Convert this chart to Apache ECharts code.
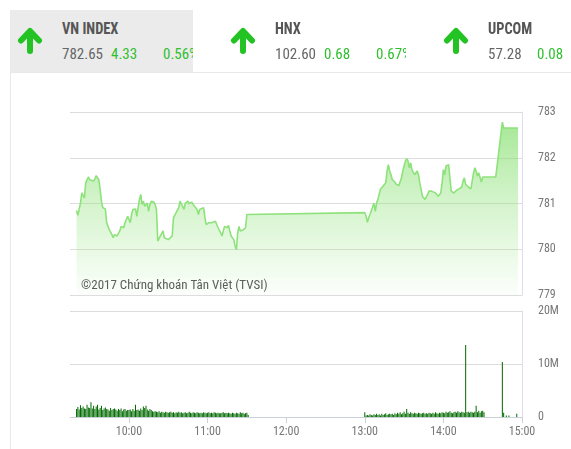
<!DOCTYPE html>
<html>
<head>
<meta charset="utf-8">
<script src="https://cdn.jsdelivr.net/npm/echarts@6/dist/echarts.min.js"></script>
<style>
  html,body{margin:0;padding:0;background:#fff;width:571px;height:449px;overflow:hidden;}
  #chart{position:absolute;left:0;top:0;width:571px;height:449px;}
  .item{position:absolute;top:10px;width:183px;height:62px;overflow:hidden;font-family:'Liberation Sans Narrow','Roboto Condensed','DejaVu Sans Condensed',sans-serif;}
  .item.sel{background:#ebebeb;}
  .item svg{position:absolute;left:7px;top:16px;}
  .ttl{position:absolute;left:52px;top:11px;font-size:16px;font-weight:bold;color:#555;white-space:nowrap;line-height:16px;transform:scaleX(0.9);transform-origin:0 0;}
  .v{position:absolute;top:37px;font-size:15px;white-space:nowrap;line-height:15px;}
  .v0{left:52px;color:#666;}
  .v1{left:101px;color:#2fbf2f;}
  .v2{left:153px;color:#2fbf2f;}
  #hl{position:absolute;left:10px;top:72px;width:561px;height:1px;background:#e8e8e8;}
  #vl{position:absolute;left:10px;top:72px;width:1px;height:377px;background:#e8e8e8;}
</style>
</head>
<body>
<div id="chart"></div>
<div id="hl"></div><div id="vl"></div>
<div id="hdr"></div>
<script>
// ---- header data ----
const indexNames = ["VN INDEX", "HNX", "UPCOM"];
const indexValues = ["782.65", "102.60", "57.28"];
const indexChanges = ["4.33", "0.68", "0.08"];
const indexPercents = ["0.56%", "0.67%", "0.14%"];

// ---- price line (time, index) ----
const priceMorning = [["09:20",780.85],["09:21",780.74],["09:23",781.01],["09:24",781.23],["09:25",781.25],["09:26",781.12],["09:27",781.45],["09:29",781.58],["09:30",781.52],["09:31",781.54],["09:33",781.49],["09:34",781.54],["09:35",781.61],["09:37",781.52],["09:38",781.31],["09:39",781.05],["09:40",780.91],["09:42",780.88],["09:43",780.58],["09:44",780.50],["09:45",780.43],["09:47",780.32],["09:48",780.25],["09:49",780.32],["09:51",780.29],["09:52",780.32],["09:53",780.40],["09:54",780.50],["09:56",780.47],["09:57",780.58],["09:58",780.65],["09:59",780.72],["10:01",780.58],["10:02",780.76],["10:03",780.87],["10:05",780.88],["10:06",780.72],["10:07",780.91],["10:08",781.09],["10:09",781.20],["10:10",780.98],["10:11",781.05],["10:12",780.94],["10:14",781.01],["10:15",780.83],["10:16",780.98],["10:17",781.05],["10:19",781.03],["10:20",780.98],["10:21",780.87],["10:22",780.18],["10:23",780.18],["10:24",780.29],["10:26",780.40],["10:27",780.25],["10:28",780.23],["10:30",780.21],["10:31",780.21],["10:33",780.29],["10:34",780.69],["10:35",780.72],["10:36",780.80],["10:38",780.91],["10:39",781.05],["10:40",781.07],["10:42",780.87],["10:43",781.01],["10:44",781.05],["10:45",781.05],["10:46",781.00],["10:48",781.03],["10:49",780.98],["10:50",781.01],["10:52",780.87],["10:53",780.76],["10:54",780.87],["10:55",780.87],["10:57",780.91],["10:58",780.69],["10:59",780.54],["11:01",780.58],["11:02",780.54],["11:03",780.58],["11:04",780.59],["11:06",780.61],["11:07",780.54],["11:08",780.47],["11:10",780.36],["11:11",780.29],["11:12",780.40],["11:13",780.50],["11:15",780.47],["11:16",780.52],["11:17",780.40],["11:18",780.29],["11:20",780.21],["11:21",780.07],["11:22",779.99],["11:23",780.36],["11:24",780.50],["11:25",780.40],["11:26",780.43],["11:27",780.42],["11:29",780.47],["11:30",780.76],["11:31",780.80]];
const priceAfternoon = [["13:00",780.80],["13:01",780.72],["13:02",780.59],["13:03",780.69],["13:04",780.76],["13:05",780.80],["13:07",781.01],["13:08",780.83],["13:09",781.01],["13:10",781.09],["13:12",781.31],["13:13",781.27],["13:14",781.38],["13:16",781.45],["13:17",781.71],["13:18",781.85],["13:19",781.71],["13:20",781.63],["13:21",781.52],["13:23",781.47],["13:24",781.42],["13:26",781.39],["13:27",781.39],["13:28",781.56],["13:29",781.71],["13:30",781.82],["13:31",781.93],["13:32",781.98],["13:33",781.93],["13:34",781.78],["13:35",781.89],["13:36",781.74],["13:37",781.71],["13:38",781.63],["13:40",781.71],["13:41",781.63],["13:42",781.45],["13:44",781.16],["13:45",781.20],["13:46",781.09],["13:47",781.05],["13:48",781.20],["13:49",781.27],["13:50",781.31],["13:51",781.27],["13:52",781.31],["13:54",781.23],["13:55",781.27],["13:56",781.16],["13:58",781.23],["13:59",781.45],["14:00",781.74],["14:01",781.63],["14:02",781.82],["14:03",781.85],["14:04",781.85],["14:05",781.89],["14:06",781.27],["14:08",781.23],["14:09",781.27],["14:10",781.29],["14:12",781.32],["14:13",781.32],["14:14",781.36],["14:15",781.49],["14:16",781.56],["14:17",781.42],["14:19",781.36],["14:20",781.32],["14:21",781.32],["14:22",781.36],["14:23",781.67],["14:24",781.78],["14:25",781.71],["14:26",781.60],["14:27",781.67],["14:28",781.63],["14:29",781.47],["14:30",781.58],["14:31",781.58],["14:40",781.58]];
const priceClose = [["14:45",782.78],["14:46",782.65],["14:57",782.65]];

// ---- volume (millions of shares per minute) ----
const volMorningStart = "09:20";
const volMorning = [1.5,1.9,1.4,2.2,1.7,2.0,1.6,1.5,2.3,1.8, 1.7,2.8,1.6,2.1,1.5,2.0,2.3,1.4,1.7,2.1, 1.3,1.6,1.8,1.5,1.4,1.2,1.7,1.3,1.5,1.6, 1.4,1.2,1.5,1.3,1.6,1.1,1.4,1.5,1.2,1.3, 1.3,1.4,1.1,1.5,1.2,2.3,1.3,1.4,1.2,1.6, 1.3,2.0,1.7,2.1,1.4,1.2,1.5,1.3,1.1,1.0, 1.1,1.0,0.9,1.1,0.8,1.0,0.9,0.8,1.0,0.9, 0.8,0.9,1.0,0.8,0.9,0.7,0.9,0.8,1.0,0.8, 0.9,0.7,0.8,0.9,0.7,0.8,1.0,0.8,0.7,0.9, 0.8,0.7,0.9,0.8,0.7,0.8,0.7,0.9,0.8,0.7, 0.8,0.9,0.7,0.8,0.7,0.9,0.8,0.7,0.8,0.7, 0.7,0.8,0.9,0.7,0.8,0.7,0.8,0.7,0.6,0.8, 0.7,0.6,0.8,0.7,0.6,0.9,0.7,0.8,0.6,0.7, 0.8,0.4];
const volAfternoonStart = "13:00";
const volAfternoon = [0.9,0.3,0.4,0.3,0.5,0.4,0.3,0.5,0.4,0.6, 0.4,0.5,0.3,0.6,0.4,0.5,0.7,0.4,0.5,0.6, 0.5,0.6,0.4,0.7,0.5,0.8,0.6,0.9,0.5,0.7, 1.0,0.6,1.5,0.8,0.6,0.9,0.7,0.6,0.8,0.7, 0.6,0.8,0.7,0.6,0.7,0.8,0.6,0.7,0.6,0.8, 0.7,0.6,0.8,0.6,0.9,0.7,0.6,0.8,0.7,0.9, 0.8,0.7,1.0,0.8,0.9,1.1,0.8,0.7,0.9,1.0, 0.8,1.1,0.9,0.8,1.0,0.9,0.8,13.6,0.9,1.0, 0.8,1.0,0.9,0.8,1.0,2.1,0.9,1.2,0.8,1.1, 1.2,0.9];
const volClose = [["14:45",10.4],["14:46",0.8],["14:48",0.3],["14:50",0.3],["14:56",0.6]];

const hourTicks = ["10:00","11:00","12:00","13:00","14:00","15:00"];
const axisStart = "09:15", axisEnd = "15:00";
const priceTicks = [779, 783, 1];   // min, max, step
const volTicks = [0, 20, 10];       // millions
const credit = "©2017 Chứng khoán Tân Việt (TVSI)";

// ---- helpers ----
function toMin(t){const p=t.split(':').map(Number);return (p[0]-9)*60+p[1];}
function fmtMin(v){const h=9+Math.floor(v/60),m=v%60;return h+':'+String(m).padStart(2,'0');}

// header
const green = '#22c322';
const hdr = document.getElementById('hdr');
indexNames.forEach((n,i)=>{
  const d=document.createElement('div');
  d.className='item'+(i===0?' sel':'');
  d.style.left=(10+213*i)+'px';
  d.innerHTML='<svg width="28" height="28" viewBox="0 0 28 28"><path d="M13 25 L13 6 M4 14.5 L13 5 L22 14.5" fill="none" stroke="'+green+'" stroke-width="6" stroke-linecap="round" stroke-linejoin="round"/></svg>'+
   '<div class="ttl">'+n+'</div><div class="v v0">'+indexValues[i]+'</div><div class="v v1">'+indexChanges[i]+'</div><div class="v v2">'+indexPercents[i]+'</div>';
  hdr.appendChild(d);
});

const FONT = "'Liberation Sans Narrow','Roboto Condensed','DejaVu Sans Condensed',sans-serif";
const priceData = priceMorning.concat(priceAfternoon, priceClose).map(d=>[toMin(d[0]), d[1]]);
const volData = [];
volMorning.forEach((v,i)=>volData.push([toMin(volMorningStart)+i, v*1e6]));
volAfternoon.forEach((v,i)=>volData.push([toMin(volAfternoonStart)+i, v*1e6]));
volClose.forEach(d=>volData.push([toMin(d[0]), d[1]*1e6]));
const tickVals = hourTicks.map(toMin);

const chart = echarts.init(document.getElementById('chart'), null, {renderer:'canvas'});
chart.setOption({
  animation:false,
  grid:[
    {left:70, right:49, top:112, height:183},
    {left:70, right:49, top:311, height:106}
  ],
  xAxis:[
    {type:'value', gridIndex:0, min:toMin(axisStart), max:toMin(axisEnd), show:true,
     axisLine:{show:false}, axisTick:{show:false}, axisLabel:{show:false}, splitLine:{show:false}},
    {type:'value', gridIndex:1, min:toMin(axisStart), max:toMin(axisEnd),
     axisLine:{show:true, lineStyle:{color:'#c8d0d8'}},
     axisTick:{show:true, length:6, lineStyle:{color:'#c8d0d8'}, customValues:tickVals},
     axisLabel:{show:true, customValues:tickVals, formatter:v=>fmtMin(v), color:'#777', fontSize:12, fontFamily:FONT, margin:9},
     splitLine:{show:false}}
  ],
  yAxis:[
    {type:'value', gridIndex:0, position:'right', min:priceTicks[0], max:priceTicks[1], interval:priceTicks[2],
     axisLine:{show:true, lineStyle:{color:'#dde'}}, axisTick:{show:false},
     axisLabel:{color:'#777', fontSize:12, fontFamily:FONT, margin:16},
     splitLine:{lineStyle:{color:'#ddd'}}},
    {type:'value', gridIndex:1, position:'right', min:volTicks[0]*1e6, max:volTicks[1]*1e6, interval:volTicks[2]*1e6,
     axisLine:{show:true, lineStyle:{color:'#dde'}}, axisTick:{show:false},
     axisLabel:{color:'#777', fontSize:12, fontFamily:FONT, margin:16, formatter:v=>v===0?'0':(v/1e6)+'M'},
     splitLine:{lineStyle:{color:'#ddd'}}}
  ],
  graphic:[
    {type:'text', left:81, top:279, silent:true, style:{text:credit, fill:'#555', font:'13px '+FONT}}
  ],
  series:[
    {type:'line', xAxisIndex:0, yAxisIndex:0, data:priceData, showSymbol:false, symbol:'none',
     lineStyle:{color:'#8ee27b', width:1.6},
     areaStyle:{color:new echarts.graphic.LinearGradient(0,0,0,1,[
       {offset:0, color:'rgba(128,222,106,1)'},
       {offset:0.5, color:'rgba(150,228,130,0.55)'},
       {offset:1, color:'rgba(150,228,130,0.04)'}])}},
    {type:'bar', xAxisIndex:1, yAxisIndex:1, data:volData, barWidth:1, itemStyle:{color:'#006a00'}}
  ]
});
</script>
</body>
</html>
